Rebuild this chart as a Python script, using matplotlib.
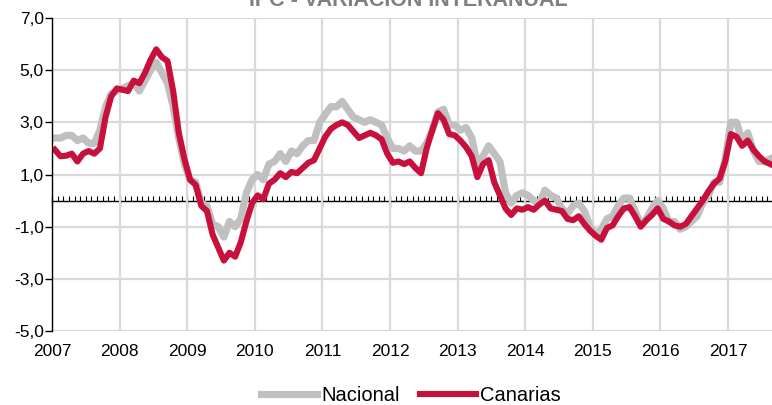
import numpy as np
import matplotlib
matplotlib.use("Agg")
from matplotlib import pyplot as plt
from matplotlib.ticker import MultipleLocator

plt.rcParams['font.family'] = ['Liberation Sans', 'DejaVu Sans']

# datos mensuales, enero 2007 - agosto 2017
years = list(range(2007, 2018))

nacional = [
    2.4, 2.4, 2.5, 2.5, 2.3, 2.4, 2.2, 2.2, 2.7, 3.6, 4.1, 4.2,
    4.3, 4.4, 4.5, 4.2, 4.6, 5.0, 5.3, 4.9, 4.5, 3.6, 2.4, 1.4,
    0.8, 0.7, -0.1, -0.2, -0.9, -1.0, -1.4, -0.8, -1.0, -0.7, 0.3, 0.8,
    1.0, 0.8, 1.4, 1.5, 1.8, 1.5, 1.9, 1.8, 2.1, 2.3, 2.3, 3.0,
    3.3, 3.6, 3.6, 3.8, 3.5, 3.2, 3.1, 3.0, 3.1, 3.0, 2.9, 2.4,
    2.0, 2.0, 1.9, 2.1, 1.9, 1.9, 2.2, 2.7, 3.4, 3.5, 2.9, 2.9,
    2.7, 2.8, 2.4, 1.4, 1.7, 2.1, 1.8, 1.5, 0.3, -0.1, 0.2, 0.3,
    0.2, 0.0, -0.1, 0.4, 0.2, 0.1, -0.3, -0.5, -0.2, -0.1, -0.4, -1.0,
    -1.3, -1.1, -0.7, -0.6, -0.2, 0.1, 0.1, -0.4, -0.9, -0.7, -0.3, 0.0,
    -0.3, -0.8, -0.8, -1.1, -1.0, -0.8, -0.6, -0.1, 0.2, 0.7, 0.7, 1.6,
    3.0, 3.0, 2.3, 2.6, 1.9, 1.5, 1.5, 1.6,
]

canarias = [
    1.95, 1.7, 1.72, 1.8, 1.5, 1.8, 1.9, 1.8, 2.0, 3.2, 4.0, 4.3,
    4.25, 4.2, 4.6, 4.5, 4.9, 5.4, 5.8, 5.5, 5.35, 4.2, 2.6, 1.6,
    0.8, 0.6, -0.2, -0.4, -1.3, -1.8, -2.3, -2.0, -2.15, -1.6, -0.8, -0.1,
    0.2, 0.05, 0.65, 0.8, 1.05, 0.9, 1.1, 1.05, 1.25, 1.45, 1.55, 2.0,
    2.45, 2.75, 2.9, 3.0, 2.9, 2.65, 2.4, 2.5, 2.6, 2.5, 2.35, 1.8,
    1.45, 1.5, 1.4, 1.5, 1.25, 1.05, 2.0, 2.7, 3.35, 3.1, 2.55, 2.5,
    2.3, 2.05, 1.7, 0.9, 1.4, 1.55, 0.7, 0.2, -0.3, -0.55, -0.3, -0.35,
    -0.25, -0.35, -0.15, 0.0, -0.3, -0.35, -0.4, -0.7, -0.75, -0.6, -0.9, -1.15,
    -1.35, -1.5, -1.05, -0.95, -0.6, -0.3, -0.25, -0.6, -1.0, -0.75, -0.55, -0.3,
    -0.7, -0.8, -0.95, -1.0, -0.9, -0.6, -0.3, 0.0, 0.35, 0.65, 0.85, 1.5,
    2.55, 2.45, 2.1, 2.3, 1.95, 1.7, 1.5, 1.4,
]

# posicion de cada mes (mitad del mes)
x = 2007 + (np.arange(len(nacional)) + 0.5) / 12

fig = plt.figure(figsize=(7.72, 4.05), dpi=100)
ax = fig.add_axes([0.0674, 0.1827, 0.9326, 0.7728])

ax.plot(x, nacional, color='#C0C0C0', linewidth=5.2, label='Nacional',
        solid_joinstyle='round', zorder=3)
ax.plot(x, canarias, color='#C8103C', linewidth=4.4, label='Canarias',
        solid_joinstyle='round', zorder=4)

ax.set_xlim(2007, 2017.65)
ax.set_ylim(-5, 7)

# eje y
ax.set_yticks(np.arange(-5, 8, 2))
ax.set_yticklabels(['{:.1f}'.format(v).replace('.', ',') for v in np.arange(-5, 8, 2)])
ax.tick_params(axis='y', direction='out', length=5, width=1, labelsize=12.5,
               pad=1, colors='black')

# eje x (etiquetas abajo, sin marcas)
ax.set_xticks(years)
ax.set_xticklabels([str(y) for y in years])
ax.tick_params(axis='x', length=0, labelsize=12.5, pad=9)

# rejilla
ax.grid(True, color='#D9D9D9', linewidth=1.6)
ax.set_axisbelow(True)

for s in ['top', 'right', 'bottom']:
    ax.spines[s].set_visible(False)
ax.spines['left'].set_linewidth(1)
ax.spines['left'].set_zorder(5)

# linea del cero con marcas mensuales
ax0 = ax.secondary_xaxis(5 / 12)
ax0.set_xticks(years)
ax0.xaxis.set_minor_locator(MultipleLocator(1 / 12))
ax0.tick_params(which='major', direction='inout', length=9, width=0.9, labelbottom=False)
ax0.tick_params(which='minor', direction='in', length=3.5, width=0.8)
ax0.spines['bottom'].set_linewidth(1)

fig.text(0.529, 0.985, 'IPC - VARIACIÓN INTERANUAL', ha='center', va='baseline',
         fontsize=15.5, fontweight='bold', color='#808080')

fig.legend(loc='center', bbox_to_anchor=(0.532, 0.024), ncol=2, frameon=False,
           fontsize=14.5, handlelength=2.8, handletextpad=0.2, columnspacing=1.0)

fig.savefig('out.png', dpi=100)
